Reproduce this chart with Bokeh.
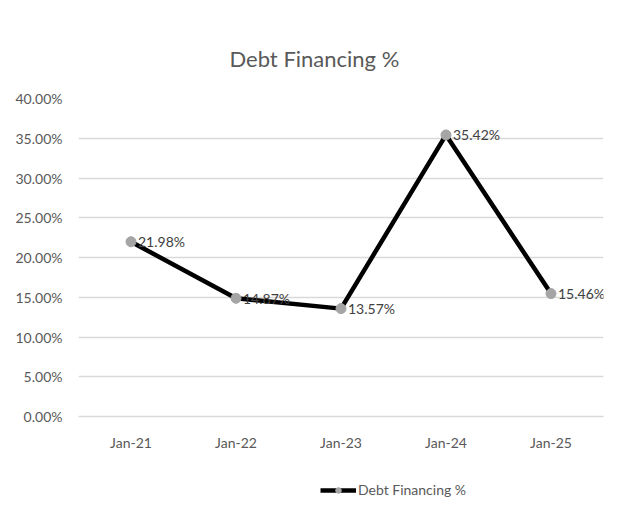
from bokeh.plotting import figure
from bokeh.layouts import column
from bokeh.models import ColumnDataSource, NumeralTickFormatter, Legend, LegendItem, LabelSet, FixedTicker
from bokeh.core.properties import value
from bokeh.embed import file_html
from bokeh.resources import INLINE

categories = ["Jan-21", "Jan-22", "Jan-23", "Jan-24", "Jan-25"]
values = [0.2198, 0.1487, 0.1357, 0.3542, 0.1546]
labels = ["21.98%", "14.87%", "13.57%", "35.42%", "15.46%"]
y_ticks = [0.0, 0.05, 0.10, 0.15, 0.20, 0.25, 0.30, 0.35, 0.40]
series_name = "Debt Financing %"

FONT = "Lato"
GRID = "#d9d9d9"
TEXT = "#595959"

p = figure(x_range=categories, y_range=(0, 0.40), width=614, height=470,
           output_backend="svg", toolbar_location=None,
           min_border_left=78, min_border_right=11, min_border_top=98, min_border_bottom=54)
p.outline_line_color = None
p.title.text = series_name
p.title.align = "left"
p.title.offset = 151
p.title.standoff = 53
p.title.text_font = FONT
p.title.text_font_size = "22px"
p.title.text_font_style = "normal"
p.title.text_color = TEXT

p.xgrid.grid_line_color = None
p.ygrid.grid_line_color = GRID
p.ygrid.grid_line_width = 1.3

p.yaxis.ticker = FixedTicker(ticks=y_ticks)
p.yaxis.formatter = NumeralTickFormatter(format="0.00%")
p.yaxis.axis_line_color = None
p.yaxis.major_tick_line_color = None
p.yaxis.minor_tick_line_color = None
p.yaxis.major_label_text_font = FONT
p.yaxis.major_label_text_font_size = "14px"
p.yaxis.major_label_text_color = TEXT
p.yaxis.major_label_standoff = 10

p.xaxis.axis_line_color = GRID
p.xaxis.axis_line_width = 1.3
p.xaxis.major_tick_line_color = None
p.xaxis.major_label_text_font = FONT
p.xaxis.major_label_text_font_size = "14px"
p.xaxis.major_label_text_color = TEXT
p.xaxis.major_label_standoff = 11

src = ColumnDataSource(dict(x=categories, y=values, lab=labels))
ln = p.line("x", "y", source=src, line_color="black", line_width=4.5)
sc = p.scatter("x", "y", source=src, size=10, fill_color="#a5a5a5", line_color="#a5a5a5")

ls = LabelSet(x="x", y="y", text="lab", source=src, x_offset=7, y_offset=0,
              text_baseline="middle", text_font=value(FONT), text_font_size="14px", text_color="#404040")
p.add_layout(ls)

# legend strip below the chart
p2 = figure(x_range=categories, y_range=(1, 2), width=614, height=40,
            output_backend="svg", toolbar_location=None,
            min_border_left=0, min_border_right=0, min_border_top=0, min_border_bottom=0)
p2.axis.visible = False
p2.grid.visible = False
p2.outline_line_color = None
ln2 = p2.line("x", "y", source=src, line_color="black", line_width=4.5)
sc2 = p2.scatter("x", "y", source=src, size=10, fill_color="#a5a5a5", line_color="#a5a5a5")
legend = Legend(items=[LegendItem(label=series_name, renderers=[ln2, sc2])],
                location=(242, 12), orientation="horizontal",
                label_text_font=FONT, label_text_font_size="14px", label_text_color=TEXT,
                glyph_width=36, glyph_height=14, label_standoff=2, border_line_color=None,
                background_fill_alpha=0, padding=0, margin=0)
p2.add_layout(legend)

layout = column(p, p2)
open("out.html", "w").write(file_html(layout, INLINE))
